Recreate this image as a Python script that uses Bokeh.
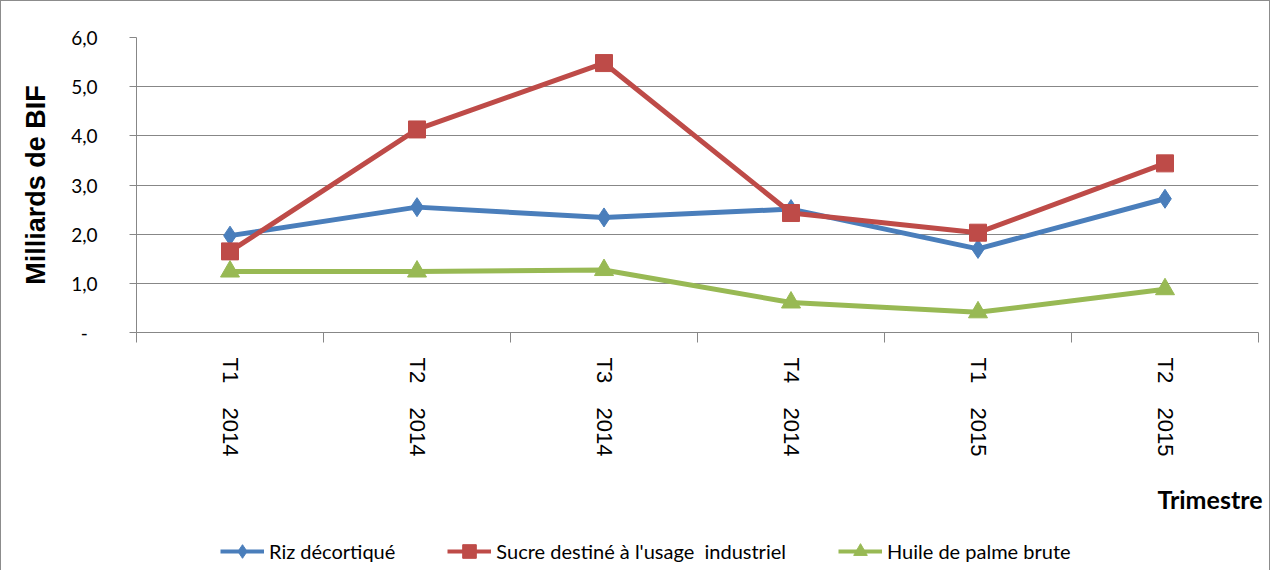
import math
from bokeh.plotting import figure
from bokeh.layouts import column
from bokeh.models import (Range1d, FixedTicker, Legend, LegendItem, Label,
                          ColumnDataSource)
from bokeh.embed import file_html
from bokeh.resources import INLINE

NB = "\u00a0"
# ---- data ----
quarters = ["T1", "T2", "T3", "T4", "T1", "T2"]
years = ["2014", "2014", "2014", "2014", "2015", "2015"]
riz = [1.97, 2.55, 2.34, 2.51, 1.70, 2.72]
sucre = [1.65, 4.13, 5.48, 2.43, 2.03, 3.44]
huile = [1.24, 1.24, 1.27, 0.61, 0.41, 0.88]
series_names = ["Riz décortiqué", "Sucre destiné à l'usage" + NB + NB + "industriel",
                "Huile de palme brute"]
y_ticks = [0, 1, 2, 3, 4, 5, 6]
y_tick_labels = ["-" + NB + NB, "1,0", "2,0", "3,0", "4,0", "5,0", "6,0"]
y_title = "Milliards de BIF"
x_title = "Trimestre"

colors = ["#4A7EBB", "#BE4B48", "#98B954"]
markers = ["diamond", "square", "triangle"]
msizes = [19, 17, 19]
GRID = "#878787"

W = 1268
H1 = 469
H2 = 100

n = len(quarters)
centers = [i + 0.5 for i in range(n)]
bounds = [i for i in range(n + 1)]
cat_labels = [q + NB * 4 + y for q, y in zip(quarters, years)]

p = figure(width=W, height=H1, output_backend="svg", toolbar_location=None,
           x_range=Range1d(0, n), y_range=Range1d(0, 6),
           min_border_left=135, min_border_right=W - 1257, min_border_top=36,
           min_border_bottom=H1 - 331)
p.outline_line_color = None
p.background_fill_color = "white"
p.border_fill_color = "white"

# x axis
xa = p.xaxis[0]
xa.ticker = FixedTicker(ticks=centers, minor_ticks=bounds)
xa.major_label_overrides = {c: l for c, l in zip(centers, cat_labels)}
xa.major_tick_out = 0
xa.major_tick_in = 0
xa.minor_tick_out = 10
xa.minor_tick_in = 0
xa.minor_tick_line_color = GRID
xa.axis_line_color = GRID
xa.major_label_orientation = -math.pi / 2
xa.major_label_standoff = 15
xa.major_label_text_font = "Liberation Sans"
xa.major_label_text_font_size = "22px"
xa.major_label_text_color = "black"

# y axis
ya = p.yaxis[0]
ya.ticker = FixedTicker(ticks=y_ticks, minor_ticks=[])
ya.major_label_overrides = {t: l for t, l in zip(y_ticks, y_tick_labels)}
ya.major_tick_out = 7
ya.major_tick_in = 0
ya.major_tick_line_color = GRID
ya.axis_line_color = GRID
ya.major_label_standoff = 32
ya.major_label_text_font = "Lato"
ya.major_label_text_font_size = "19px"
ya.major_label_text_color = "black"
ya.axis_label = y_title
ya.axis_label_text_font = "Liberation Sans"
ya.axis_label_text_font_style = "bold"
ya.axis_label_text_font_size = "27px"
ya.axis_label_text_color = "black"
ya.axis_label_standoff = 17

p.xgrid.visible = False
p.ygrid.ticker = FixedTicker(ticks=y_ticks)
p.ygrid.grid_line_color = GRID
p.ygrid.grid_line_width = 1

# second strip: axis title + legend (data coordinates = page pixels)
p2 = figure(width=W, height=H2, output_backend="svg", toolbar_location=None,
            x_range=Range1d(0, W), y_range=Range1d(H1 + H2, H1),
            min_border=0, min_border_left=0, min_border_right=0,
            min_border_top=0, min_border_bottom=0)
p2.frame_align = False
p2.axis.visible = False
p2.grid.visible = False
p2.outline_line_color = None
p2.background_fill_color = "white"
p2.border_fill_color = "white"

items = []
for name, vals, c, m, s in zip(series_names, [riz, sucre, huile], colors, markers, msizes):
    src = ColumnDataSource(dict(x=centers, y=vals))
    p.line("x", "y", source=src, line_color=c, line_width=5)
    p.scatter("x", "y", source=src, marker=m, size=s, fill_color=c, line_color=c)
    # off-screen proxies so that the legend can draw its swatches
    proxy = ColumnDataSource(dict(x=[-200, -150], y=[H1 + 50, H1 + 50]))
    lr = p2.line("x", "y", source=proxy, line_color=c, line_width=4)
    sr = p2.scatter("x", "y", source=proxy, marker=m, size=s, fill_color=c, line_color=c)
    items.append(LegendItem(label=name, renderers=[lr, sr], index=0))

legend = Legend(items=items, orientation="horizontal", location=(219, 2),
                padding=0, margin=0, spacing=52, glyph_width=44, glyph_height=34,
                label_standoff=5, label_text_font="Lato", label_text_font_size="20px",
                label_text_color="black", border_line_color=None,
                background_fill_alpha=0)
p2.add_layout(legend, "center")

p2.add_layout(Label(x=W - 7, y=497, text=x_title, text_align="right",
                    text_baseline="middle", text_font="Lato", text_font_style="bold",
                    text_font_size="25px", text_color="black"))

layout = column(p, p2, spacing=0,
                styles={"border-left": "1px solid #8c8c8c",
                        "border-top": "1px solid #8c8c8c",
                        "border-right": "1px solid #8c8c8c"})
open("out.html", "w").write(file_html(layout, INLINE))
